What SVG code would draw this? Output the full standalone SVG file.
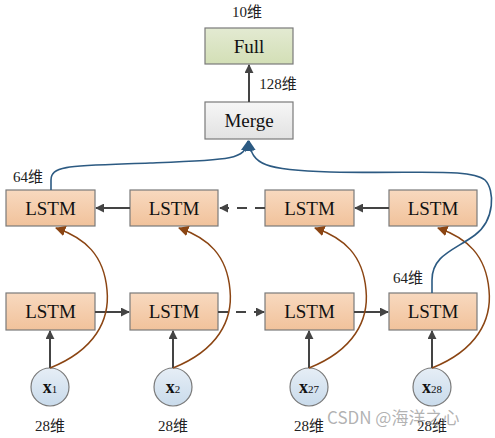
<svg xmlns="http://www.w3.org/2000/svg" width="495" height="438" viewBox="0 0 495 438">
<defs>
<linearGradient id="gL" x1="0" y1="0" x2="0" y2="1"><stop offset="0" stop-color="#f8d9bf"/><stop offset="1" stop-color="#f1c29b"/></linearGradient>
<linearGradient id="gF" x1="0" y1="0" x2="0" y2="1"><stop offset="0" stop-color="#e3ead2"/><stop offset="1" stop-color="#d3dfb6"/></linearGradient>
<linearGradient id="gM" x1="0" y1="0" x2="0" y2="1"><stop offset="0" stop-color="#f6f6f6"/><stop offset="1" stop-color="#e2e2e2"/></linearGradient>
<linearGradient id="gC" x1="0" y1="0" x2="0" y2="1"><stop offset="0" stop-color="#e6eef6"/><stop offset="1" stop-color="#c9dbeb"/></linearGradient>
<marker id="aG" viewBox="0 0 10 10" refX="9" refY="5" markerWidth="4.5" markerHeight="4.5" orient="auto"><path d="M0,0 L10,5 L0,10 z" fill="#444"/></marker>
<marker id="aB" viewBox="0 0 10 10" refX="9" refY="5" markerWidth="7" markerHeight="7" orient="auto"><path d="M0,0 L10,5 L0,10 z" fill="#8b4513"/></marker>
<marker id="aN" viewBox="0 0 10 10" refX="9" refY="5" markerWidth="7" markerHeight="7" orient="auto"><path d="M0,0 L10,5 L0,10 z" fill="#2c5a82"/></marker>
</defs>
<style>
.box{stroke:#7a7a7a;stroke-width:1.2}
.lstm{fill:url(#gL)}
.t{font-family:"Liberation Serif",serif;fill:#111;text-anchor:middle}
.big{font-size:19px}
.lbl{font-family:"Liberation Serif","Noto Sans CJK SC",serif;font-size:15px;fill:#222;text-anchor:middle}
.ga{stroke:#444;stroke-width:2;fill:none;marker-end:url(#aG)}
.br{stroke:#8b4513;stroke-width:1.5;fill:none;marker-end:url(#aB)}
.bl{stroke:#2c5a82;stroke-width:1.6;fill:none;marker-end:url(#aN)}
.cir{fill:url(#gC);stroke:#7a7a7a;stroke-width:1.2}
</style>

<g id="full"><rect class="box" x="205" y="28" width="88" height="36" fill="url(#gF)"/><text class="t big" x="249" y="53">Full</text></g>
<g id="merge"><rect class="box" x="205" y="102" width="88" height="37" fill="url(#gM)"/><text class="t big" x="249" y="127">Merge</text></g>

<g id="u1"><rect class="box lstm" x="6" y="190" width="89" height="36"/><text class="t big" x="50.5" y="215">LSTM</text></g>
<g id="u2"><rect class="box lstm" x="130" y="190" width="88" height="36"/><text class="t big" x="174" y="215">LSTM</text></g>
<g id="u3"><rect class="box lstm" x="265" y="190" width="89" height="36"/><text class="t big" x="309.5" y="215">LSTM</text></g>
<g id="u4"><rect class="box lstm" x="389" y="190" width="88" height="36"/><text class="t big" x="433" y="215">LSTM</text></g>

<g id="d1"><rect class="box lstm" x="6" y="293" width="89" height="37"/><text class="t big" x="50.5" y="318">LSTM</text></g>
<g id="d2"><rect class="box lstm" x="130" y="293" width="88" height="37"/><text class="t big" x="174" y="318">LSTM</text></g>
<g id="d3"><rect class="box lstm" x="265" y="293" width="89" height="37"/><text class="t big" x="309.5" y="318">LSTM</text></g>
<g id="d4"><rect class="box lstm" x="389" y="293" width="88" height="37"/><text class="t big" x="433" y="318">LSTM</text></g>

<g id="x1"><circle class="cir" cx="50" cy="387" r="19"/><text class="t" x="50" y="393"><tspan font-size="18" font-weight="bold">x</tspan><tspan font-size="11">1</tspan></text></g>
<g id="x2"><circle class="cir" cx="173" cy="387" r="19"/><text class="t" x="173" y="393"><tspan font-size="18" font-weight="bold">x</tspan><tspan font-size="11">2</tspan></text></g>
<g id="x27"><circle class="cir" cx="309" cy="387" r="19"/><text class="t" x="309" y="393"><tspan font-size="18" font-weight="bold">x</tspan><tspan font-size="11">27</tspan></text></g>
<g id="x28"><circle class="cir" cx="432" cy="387" r="19"/><text class="t" x="432" y="393"><tspan font-size="18" font-weight="bold">x</tspan><tspan font-size="11">28</tspan></text></g>

<g id="connectors">
<path class="ga" d="M249,102 V65"/>
<path class="ga" d="M130,208 H96"/>
<path class="ga" d="M265,208 H220" stroke-dasharray="10,8"/>
<path class="ga" d="M389,208 H355"/>
<path class="ga" d="M95,312 H129"/>
<path class="ga" d="M218,312 H264" stroke-dasharray="10,8"/>
<path class="ga" d="M354,312 H388"/>
<path class="ga" d="M50,368 V331"/>
<path class="ga" d="M173,368 V331"/>
<path class="ga" d="M309,368 V331"/>
<path class="ga" d="M432,368 V331"/>
<path class="br" d="M50,368 C95,350 110,320 107,290 C104,255 85,238 56,228"/>
<path class="br" d="M173,368 C218,350 233,320 230,290 C227,255 208,238 179,228"/>
<path class="br" d="M309,368 C354,350 369,320 366,290 C363,255 344,238 315,228"/>
<path class="br" d="M432,368 C477,350 492,320 489,290 C486,255 467,238 438,228"/>
<path class="bl" d="M51,190 V180 C51,165 70,166 150,163 C230,160 245,160 248,141"/>
<path class="bl" d="M432,293 V280 C432,255 455,250 475,235 C495,220 495,190 485,180 C470,168 420,174 330,172 C265,170 252,165 249,141"/>
</g>

<g id="labels">
<text class="lbl" x="247" y="17">10维</text>
<text class="lbl" x="278" y="89">128维</text>
<text class="lbl" x="28" y="182">64维</text>
<text class="lbl" x="408" y="283">64维</text>
<text class="lbl" x="50" y="431">28维</text>
<text class="lbl" x="173" y="431">28维</text>
<text class="lbl" x="309" y="431">28维</text>
<text class="lbl" x="432" y="431">28维</text>
<text x="327" y="424" font-family="Noto Sans CJK SC, sans-serif" font-size="17" fill="#999" fill-opacity="0.75">CSDN @海洋之心</text>
</g>
</svg>
